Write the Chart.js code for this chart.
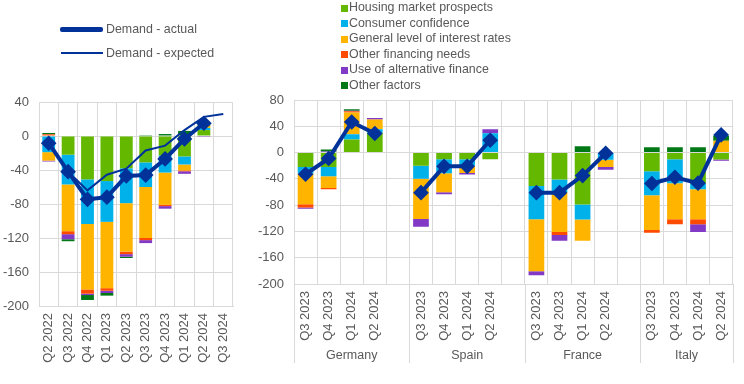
<!DOCTYPE html>
<html>
<head>
<meta charset="utf-8">
<script src="https://cdn.jsdelivr.net/npm/chart.js@4.4.1/dist/chart.umd.min.js"></script>
<style>
  body { margin: 0; background: #fff; font-family: "Liberation Sans", Arial, sans-serif; }
  #wrap { position: relative; width: 744px; height: 384px; overflow: hidden; }
  #leftBox { position: absolute; left: 0; top: 0; width: 250px; height: 384px; }
  #rightBox { position: absolute; left: 250px; top: 0; width: 494px; height: 384px; }
  .leg { position: absolute; color: #595959; font-size: 12.4px; line-height: 15px; white-space: nowrap; z-index: 2; }
  .sw { position: absolute; width: 7px; height: 7px; }
  .ln { position: absolute; background: #003299; }
</style>
</head>
<body>
<div id="wrap">
  <div id="leftBox"><canvas id="leftChart"></canvas></div>
  <div id="rightBox"><canvas id="rightChart"></canvas></div>
  <div id="legendLeft"></div>
  <div id="legendRight"></div>
</div>
<script>
// ---- left panel: euro area ----
const leftCategories = ['Q2 2022', 'Q3 2022', 'Q4 2022', 'Q1 2023', 'Q2 2023', 'Q3 2023', 'Q4 2023', 'Q1 2024', 'Q2 2024', 'Q3 2024'];
const leftHousing      = [0,    -22,  -51,  -53,  -38,  -31,  -23,  -24,  7,    null];
const leftConsumer     = [-19,  -35,  -52.5,-48,  -41,  -29,  -20,  -9.5, 2.5,  null];
const leftInterest     = [-10,  -55,  -77,  -78,  -57,  -60,  -38,  -7,   2.5,  null];
const leftOtherFin     = [2,    -3.5, -5,   -3,   -3,   -2.5, -1.5, -1,   0,    null];
const leftAltFinance   = [-1,   -6,   -1.6, -2.7, -3,   -3.5, -3,   -3,   -1,   null];
const leftOtherFactors = [1.5,  -2.3, -5.8, -3.1, -1.5, 1,    2.3,  6,    1.5,  null];
const leftActual       = [-8.5, -42,  -74.5,-72,  -47,  -46,  -27,  -3.5, 15,   null];
const leftExpected     = [null, -42,  -64,  -45.5,-38.5,-17,  -11.3, 7,   22.5, 26];

// ---- right panel: countries (blank slot between groups) ----
const rightCategories = ['Q3 2023', 'Q4 2023', 'Q1 2024', 'Q2 2024', '',
                         'Q3 2023', 'Q4 2023', 'Q1 2024', 'Q2 2024', '',
                         'Q3 2023', 'Q4 2023', 'Q1 2024', 'Q2 2024', '',
                         'Q3 2023', 'Q4 2023', 'Q1 2024', 'Q2 2024'];
const rightGroups = ['Germany', 'Spain', 'France', 'Italy'];
const rightGroupSizes = [5, 5, 5, 4];
const rightHousing      = [-22, -22, 20, 30, null,  -20, -10, -10, -10, null,  -51, -41, -79, 0, null,  -28.5, -10, -47, -10.5];
const rightConsumer     = [-10, -14, 8, 5.5, null,  -20, -21.5, -10, 29.5, null,  -50.5, -19, -23, -11, null,  -36.5, -36.5, -9, 0];
const rightInterest     = [-46.5, -18, 33, 15, null,  -61, -29, -11, 0, null,  -79, -61, -32, -11, null,  -53, -55, -45.5, 18];
const rightOtherFin     = [-5, -2, 2, 0, null,  0, 0, 0, 0, null,  0, -4.5, 0, 0, null,  -4, -7.5, -7.5, 0];
const rightAltFinance   = [-2, 1.5, 0.5, 2, null,  -12, -3, -2.5, 6, null,  -6, -8.5, 0, -4, null,  0, 0, -12, -2];
const rightOtherFactors = [0, 3, 2.5, 0, null,  0, 0, 0, 0, null,  0, 0, 9.5, 0, null,  8, 8, 8, 8];
const rightActual       = [-33, -9, 46.5, 29, null,  -61, -21, -21, 18.8, null,  -61, -61, -35, -1, null,  -47, -37.5, -46.5, 27];

const factorNames = ['Housing market prospects', 'Consumer confidence', 'General level of interest rates',
                     'Other financing needs', 'Use of alternative finance', 'Other factors'];
const factorColors = ['#65B800', '#00B1EA', '#FFB400', '#FF4B00', '#8139C6', '#007816'];
const lineColor = '#003299';
const textColor = '#595959';
const gridColor = '#d9d9d9';

Chart.defaults.font.family = '"Liberation Sans", Arial, sans-serif';
Chart.defaults.font.size = 13;
Chart.defaults.color = textColor;

function barSets(arrays, pct) {
    return arrays.map((arr, i) => ({
        type: 'bar',
        label: factorNames[i],
        data: arr,
        backgroundColor: factorColors[i],
        borderWidth: 0,
        barPercentage: pct,
        categoryPercentage: 1,
        stack: 'factors',
        order: 2
    }));
}

function actualLine(data) {
    return {
        type: 'line', label: 'Demand - actual', data: data,
        borderColor: lineColor, backgroundColor: lineColor,
        borderWidth: 4, pointStyle: 'rectRot', pointRadius: 5, pointHoverRadius: 5,
        tension: 0, stack: 'actual', order: 0, spanGaps: false
    };
}

function chartOptions(yMax, padTop, padRight, yWidth, xHeight) {
    return {
        responsive: true,
        maintainAspectRatio: false,
        animation: false,
        layout: { padding: { top: padTop, right: padRight, left: 0, bottom: 0 } },
        plugins: { legend: { display: false }, tooltip: { enabled: false } },
        scales: {
            x: {
                stacked: true,
                grid: { offset: true, color: gridColor, drawTicks: false },
                border: { color: gridColor },
                ticks: { minRotation: 90, maxRotation: 90, autoSkip: false, padding: 7, color: textColor },
                afterFit: s => { s.height = xHeight; }
            },
            y: {
                stacked: true,
                min: -200, max: yMax,
                grid: { color: gridColor, drawTicks: false },
                border: { display: false },
                ticks: { stepSize: 40, padding: 10, color: textColor },
                afterFit: s => { s.width = yWidth; }
            }
        }
    };
}

new Chart(document.getElementById('leftChart'), {
    data: {
        labels: leftCategories,
        datasets: [
            actualLine(leftActual),
            { type: 'line', label: 'Demand - expected', data: leftExpected,
              borderColor: lineColor, borderWidth: 2, pointRadius: 0, tension: 0,
              stack: 'expected', order: 1 },
            ...barSets([leftHousing, leftConsumer, leftInterest, leftOtherFin, leftAltFinance, leftOtherFactors], 0.66)
        ]
    },
    options: chartOptions(40, 102, 17, 39, 78)
});

const groupPlugin = {
    id: 'groupLabels',
    afterDraw(chart) {
        const x = chart.scales.x, area = chart.chartArea, ctx = chart.ctx;
        const half = (x.getPixelForValue(1) - x.getPixelForValue(0)) / 2;
        ctx.save();
        ctx.strokeStyle = gridColor;
        ctx.lineWidth = 1;
        ctx.fillStyle = textColor;
        ctx.font = '12.5px "Liberation Sans", Arial, sans-serif';
        ctx.textAlign = 'center';
        ctx.textBaseline = 'middle';
        let start = 0;
        rightGroups.forEach((name, g) => {
            const end = start + rightGroupSizes[g] - 1;
            const x0 = x.getPixelForValue(start) - half;
            const x1 = x.getPixelForValue(end) + half;
            [x0, x1].forEach(px => {
                const p = Math.round(px) + 0.5;
                ctx.beginPath();
                ctx.moveTo(p, area.bottom);
                ctx.lineTo(p, area.bottom + 79);
                ctx.stroke();
            });
            ctx.fillText(name, (x0 + x1) / 2, area.bottom + 72);
            start = end + 1;
        });
        ctx.restore();
    }
};

new Chart(document.getElementById('rightChart'), {
    data: {
        labels: rightCategories,
        datasets: [
            actualLine(rightActual),
            ...barSets([rightHousing, rightConsumer, rightInterest, rightOtherFin, rightAltFinance, rightOtherFactors], 0.68)
        ]
    },
    options: chartOptions(80, 100, 11, 44, 100),
    plugins: [groupPlugin]
});

// ---- legends ----
const legL = document.getElementById('legendLeft');
legL.innerHTML =
    '<div class="ln" style="left:60px;top:27px;width:43px;height:5px;border-radius:2px"></div>' +
    '<div class="leg" style="left:106px;top:22px">Demand - actual</div>' +
    '<div class="ln" style="left:61px;top:52px;width:42px;height:2px"></div>' +
    '<div class="leg" style="left:106px;top:46px">Demand - expected</div>';

const legR = document.getElementById('legendRight');
const rowY = [7.5, 23, 38.5, 54, 69.5, 85];
legR.innerHTML = factorNames.map((n, i) =>
    `<div class="sw" style="left:341px;top:${rowY[i] - 3}px;background:${factorColors[i]}"></div>` +
    `<div class="leg" style="left:349px;top:${rowY[i] - 7.5}px">${n}</div>`).join('');
</script>
</body>
</html>
